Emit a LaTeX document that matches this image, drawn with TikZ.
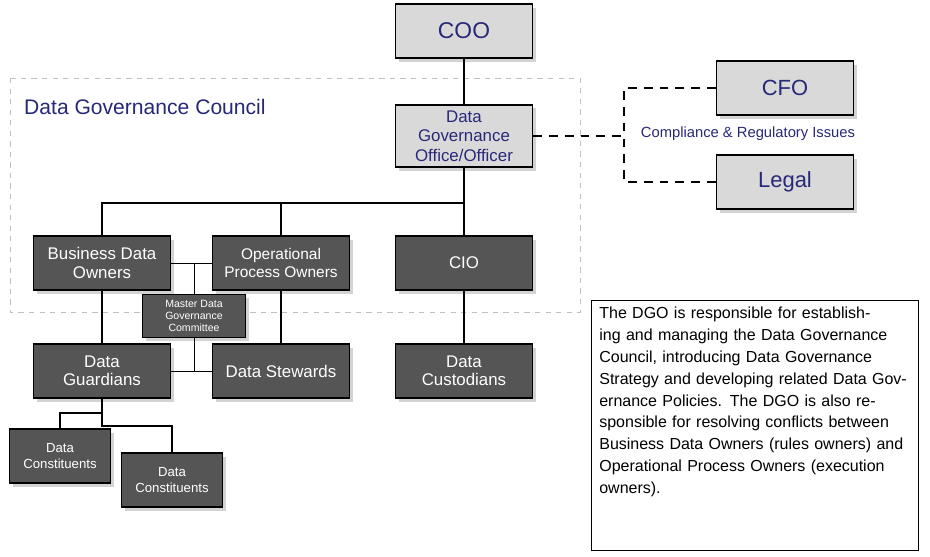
\documentclass[tikz,border=0pt]{standalone}
\usepackage{fontspec}
\setmainfont{Liberation Sans}
\usetikzlibrary{shadows}
\definecolor{navy}{RGB}{40,40,120}
\definecolor{darkbox}{RGB}{85,85,85}
\definecolor{lightbox}{RGB}{217,217,217}
\tikzset{
    role/.style={draw=black, thick, minimum width=2.74cm, minimum height=1.08cm, align=center, drop shadow={shadow xshift=2pt, shadow yshift=-2pt, opacity=0.35}},
    dark/.style={role, fill=darkbox, text=white, font=\fontsize{9.6}{10.5}\selectfont},
    light/.style={role, fill=lightbox, text=navy},
    link/.style={line width=1.6pt},
    thinlink/.style={thin},
    dashlink/.style={line width=1.6pt, dash pattern=on 5pt off 4pt}
}
\begin{document}
\begin{tikzpicture}[x=0.02cm, y=-0.02cm]
    \useasboundingbox (0,0) rectangle (930,556);

    % council frame
    \draw [gray!50, dashed] (10,78) rectangle (580,312);
    \node [anchor=west, text=navy, font=\fontsize{12}{14}\selectfont] (council) at (18,107) {Data Governance Council};

    % top of the chart
    \node [light, font=\fontsize{13}{14}\selectfont] (coo) at (464,31) {COO};
    \node [light, minimum height=1.18cm, font=\fontsize{9.6}{11}\selectfont] (dgo) at (464,136) {Data\\Governance\\Office/Officer};
    \node [light, font=\fontsize{12.5}{14}\selectfont] (cfo) at (785,88) {CFO};
    \node [light, font=\fontsize{12.5}{14}\selectfont] (legal) at (785,182) {Legal};
    \node [text=navy, font=\fontsize{8.4}{10}\selectfont] (issues) at (748,134) {Compliance \& Regulatory Issues};

    % owners and below
    \node [dark] (bdo) at (102,263) {Business Data\\Owners};
    \node [dark, font=\fontsize{8.8}{10.5}\selectfont] (opo) at (281,263) {Operational\\Process Owners};
    \node [dark] (cio) at (464,263) {CIO};
    \node [dark, minimum width=2.06cm, minimum height=0.82cm, font=\fontsize{6}{6.8}\selectfont] (mdgc) at (194,316) {Master Data\\Governance\\Committee};
    \node [dark] (guard) at (102,371) {Data\\Guardians};
    \node [dark] (stew) at (281,371) {Data Stewards};
    \node [dark] (cust) at (464,371) {Data\\Custodians};
    \node [dark, minimum width=2.02cm, font=\fontsize{7.5}{9}\selectfont] (const1) at (60,456) {Data\\Constituents};
    \node [dark, minimum width=2.02cm, font=\fontsize{7.5}{9}\selectfont] (const2) at (172,480) {Data\\Constituents};

    % solid links
    \coordinate (bar) at (464,203);
    \draw [link] (coo) -- (dgo);
    \draw [link] (dgo) -- (cio);
    \draw [link] (bdo.north) |- (bar);
    \draw [link] (opo.north) -- (opo.north |- bar);
    \draw [link] (bdo) -- (guard);
    \draw [link] (opo) -- (stew);
    \draw [link] (cio) -- (cust);
    \coordinate (split) at (102,413);
    \draw [link] (guard.south) -- (split) -| (const1.north);
    \draw [link] (split) |- (172,426) -- (const2.north);

    % committee links
    \draw [thinlink] (bdo.east) -- (opo.west);
    \draw [thinlink] (mdgc.north) -- (mdgc.north |- bdo.east);
    \draw [thinlink] (guard.east) -- (stew.west);
    \draw [thinlink] (mdgc.south) -- (mdgc.south |- guard.east);

    % dashed links
    \coordinate (fork) at (624,136);
    \draw [dashlink] (dgo.east) -- (fork);
    \draw [dashlink] (cfo.west) -| (fork) |- (legal.west);

    % note
    \node [draw=black, anchor=north west, minimum width=6.54cm, minimum height=5cm, inner sep=0pt] (notebox) at (591,300) {};
    \node [anchor=north west, text width=6.2cm, align=left, font=\fontsize{9.1}{12.4}\selectfont, inner sep=0pt] (note) at (599,307)
        {The DGO is responsible for establishing and managing the Data Governance Council, introducing Data Governance Strategy and developing related Data Governance Policies. The DGO is also responsible for resolving conflicts between Business Data Owners (rules owners) and Operational Process Owners (execution owners).};
\end{tikzpicture}
\end{document}
